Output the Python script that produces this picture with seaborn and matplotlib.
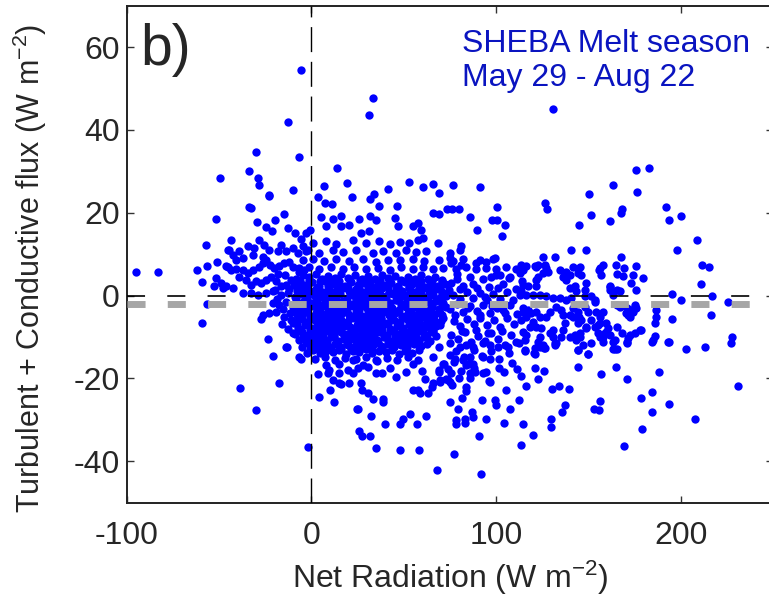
import pandas as pd
import matplotlib
matplotlib.use('Agg')
import matplotlib.pyplot as plt
import seaborn as sns

# (net radiation, turbulent + conductive flux) in W m-2
upper_pts = [
    (-5.6, 54.5), (-12.8, 42.0), (33.2, 47.6), (31.4, 43.6), (-30.0, 34.6), (-6.5, 33.4),
    (-49.5, 28.4), (-33.6, 30.0), (-28.7, 28.3), (-28.2, 26.6), (-23.1, 24.2), (-9.8, 25.4),
    (13.7, 30.8), (7.0, 26.4), (19.1, 27.2), (21.8, 23.7), (34.1, 24.6), (31.8, 23.4),
    (41.3, 25.8), (3.8, 23.8), (130.6, 45.0), (53.1, 27.5), (60.3, 26.2), (65.7, 27.0),
    (68.8, 24.8), (76.9, 26.6), (91.5, 26.2), (150.1, 24.5), (163.2, 26.7), (175.7, 30.4),
    (182.4, 30.9), (176.2, 24.9), (-51.6, 18.5), (-43.5, 13.5), (-32.7, 21.2), (-33.6, 21.5),
    (-22.8, 24.1), (-29.6, 17.8), (-24.5, 16.5), (-19.7, 18.2), (-15.0, 19.8), (-21.3, 15.5),
    (-12.4, 16.3), (-8.8, 15.1), (-5.6, 13.6), (-0.9, 15.9), (5.2, 19.0), (7.6, 22.4),
    (-28.2, 13.5), (-25.5, 12.3), (-16.4, 12.3), (11.0, 22.2), (36.5, 21.7), (46.4, 21.6),
    (32.0, 19.1), (25.6, 18.5), (16.1, 19.1), (11.6, 18.4), (8.0, 16.7), (16.1, 16.7),
    (20.6, 17.1), (26.9, 15.1), (31.4, 15.5), (35.0, 18.3), (45.3, 18.7), (46.8, 16.7),
    (54.9, 16.7), (57.6, 17.5), (59.4, 15.9), (65.7, 20.0), (68.8, 19.6), (73.5, 20.8),
    (76.0, 20.8), (79.8, 20.8), (85.6, 19.0), (89.6, 15.9), (97.9, 18.3), (100.6, 18.3),
    (100.6, 21.5), (104.9, 17.0), (103.1, 14.5), (68.4, 12.7), (80.7, 11.9), (57.6, 13.3),
    (60.3, 13.9), (-2.9, 15.1), (0.7, 12.6), (7.9, 13.2), (13.4, 12.5), (22.4, 13.3),
    (29.6, 12.7), (36.8, 13.1), (42.3, 12.4), (47.7, 13.0), (53.1, 12.6), (126.2, 22.4),
    (127.5, 20.9), (151.5, 19.4), (144.6, 17.1), (161.4, 18.0), (167.4, 20.0), (168.3, 20.9),
    (192.1, 21.4), (193.4, 18.2), (199.9, 19.1), (208.9, 13.3),
]

left_pts = [
    (-94.6, 5.7), (-82.9, 5.6), (-58.9, -6.7), (-57.0, 12.3), (-50.8, 8.0), (-61.9, 6.2),
    (-58.9, 3.2), (-56.2, 7.2), (-51.6, 4.2), (-52.5, 2.2), (-48.0, 1.8), (-56.3, -2.0),
    (-45.3, 10.9), (-38.6, -22.2), (-30.0, -27.7), (-17.3, -21.2), (-21.0, -14.6), (-13.4, -12.3),
    (-5.6, -15.2), (-1.6, -36.6), (-45.3, 6.9), (-43.5, 6.2), (-40.8, 6.4), (-37.2, 6.2),
    (-34.5, 5.4), (-31.8, 6.1), (-28.5, 6.9), (-26.4, 7.8), (-24.5, 8.6), (-22.4, 7.4),
    (-20.0, 6.6), (-17.3, 7.2), (-14.6, 7.8), (-11.9, 8.0), (-10.1, 6.9), (-6.5, 5.8),
    (-3.8, 6.2), (-39.0, 4.6), (-35.4, 3.8), (-32.7, 2.6), (-30.0, 3.6), (-27.3, 3.0),
    (-24.5, 3.8), (-21.8, 4.6), (-19.1, 3.4), (-16.4, 2.2), (-13.7, 2.6), (-11.0, 3.8),
    (-48.9, 3.0), (-46.2, 2.2), (-42.6, 1.8), (-37.2, 0.6), (-32.7, 0.6), (-29.1, 0.2),
    (-24.5, 0.6), (-21.0, 1.0), (-16.4, 0.2), (-12.8, 0.6), (-21.0, -1.8), (-17.3, -2.3),
    (-13.7, -1.5), (-10.1, -2.7), (-26.4, -4.7), (-22.8, -4.3), (-19.1, -3.9), (-14.6, -5.1),
    (-11.0, -5.9), (-27.3, -5.7), (-23.6, -10.6), (-13.7, -12.3), (-10.1, -9.1), (-6.5, -14.8),
    (-34.5, 12.0), (-30.9, 11.5), (-31.8, 9.9), (-26.4, 9.4), (-22.8, 11.1), (-18.2, 10.7),
    (-13.7, 10.7), (-10.1, 11.5), (-7.4, 10.3), (-4.7, 11.9), (-2.0, 11.1), (-37.2, 9.1),
    (-40.8, 8.6), (-42.6, 9.9), (-39.0, 10.7), (-44.4, 11.1), (-46.2, 7.2), (-18.5, -0.8),
    (-15.2, -3.2), (-12.1, 1.5), (-11.5, -4.1), (-14.0, 4.9), (-17.9, 5.3), (-19.8, 1.3),
    (-16.0, -6.8), (-12.8, -8.0), (-9.9, -6.5),
]

band_pts = [
    (-2.9, 10.7), (4.3, 10.3), (11.6, 10.9), (16.9, 10.5), (24.2, 11.0), (33.2, 10.4),
    (38.6, 10.8), (45.9, 10.2), (51.3, 10.9), (56.7, 10.5), (62.1, 10.7), (74.8, 10.4),
    (80.2, 10.9), (-4.7, 8.6), (0.7, 8.9), (7.0, 8.3), (13.4, 8.8), (20.6, 8.4),
    (27.8, 8.9), (35.0, 8.2), (41.3, 8.7), (47.7, 8.5), (54.9, 8.9), (61.2, 8.3),
    (69.3, 8.7), (76.6, 8.4), (82.0, 8.8), (91.0, 8.6), (94.6, 8.1), (98.2, 8.9),
    (-6.5, 6.6), (-1.1, 6.9), (4.3, 6.4), (10.7, 6.8), (16.9, 6.3), (23.3, 6.9),
    (29.6, 6.5), (35.9, 6.7), (42.3, 6.2), (48.6, 6.8), (54.9, 6.4), (60.3, 6.9),
    (65.7, 6.3), (71.1, 6.7), (78.4, 6.5), (83.8, 6.9), (89.2, 6.4), (94.6, 6.7),
    (100.0, 6.3), (105.5, 6.8), (110.9, 6.5), (114.5, 6.2), (121.7, 7.0), (128.0, 5.8),
    (99.1, 9.1), (89.2, 7.8), (81.1, 7.4), (75.7, 7.8), (74.8, 9.1), (107.3, 4.6),
    (101.9, 5.0), (97.3, 4.6), (112.7, 5.4),
]

core_pts = [
    (-8.2, 4.1), (-4.6, 5.0), (-1.3, 4.4), (2.4, 5.2), (5.8, 4.0), (9.1, 4.8), (12.7, 4.2),
    (16.3, 5.1), (19.8, 4.3), (23.5, 4.9), (27.2, 3.9), (30.6, 4.7), (34.4, 4.1), (38.1, 5.0),
    (41.5, 4.2), (45.2, 4.8), (48.7, 3.8), (52.3, 4.6), (56.0, 4.0), (59.4, 4.9), (63.1, 3.9),
    (66.8, 4.5), (70.5, 3.7),
    (-9.5, 2.6), (-6.1, 3.3), (-2.8, 2.5), (0.6, 3.2), (4.1, 2.4), (7.6, 3.4), (11.0, 2.7),
    (14.6, 3.1), (18.1, 2.3), (21.7, 3.3), (25.3, 2.6), (28.8, 3.0), (32.5, 2.2), (36.0, 3.2),
    (39.6, 2.5), (43.2, 3.1), (46.9, 2.4), (50.4, 3.3), (54.1, 2.6), (57.7, 2.9), (61.3, 2.1),
    (65.0, 3.0), (68.6, 2.4), (72.4, 2.8),
    (-7.7, 1.2), (-4.2, 1.8), (-0.8, 1.0), (2.7, 1.7), (6.3, 0.9), (9.8, 1.6), (13.4, 1.1),
    (16.9, 1.9), (20.4, 1.0), (24.0, 1.5), (27.6, 0.8), (31.1, 1.7), (34.7, 1.2), (38.4, 1.8),
    (41.9, 0.9), (45.6, 1.6), (49.0, 1.1), (52.7, 1.8), (56.3, 0.8), (59.9, 1.5), (63.5, 1.0),
    (67.2, 1.7), (70.8, 0.9), (74.3, 1.4),
    (-9.0, -0.3), (-5.6, 0.3), (-2.1, -0.5), (1.4, 0.2), (4.9, -0.4), (8.5, 0.4), (12.0, -0.2),
    (15.6, 0.3), (19.1, -0.6), (22.7, 0.1), (26.3, -0.3), (29.8, 0.4), (33.4, -0.5), (37.0, 0.2),
    (40.6, -0.2), (44.1, 0.5), (47.8, -0.4), (51.3, 0.1), (55.0, -0.5), (58.6, 0.3), (62.2, -0.3),
    (65.8, 0.2), (69.5, -0.6), (73.1, 0.0),
    (-7.4, -1.8), (-3.9, -1.2), (-0.4, -1.9), (3.1, -1.3), (6.6, -2.0), (10.2, -1.1), (13.7, -1.7),
    (17.3, -1.2), (20.9, -2.0), (24.4, -1.4), (28.0, -1.8), (31.6, -1.0), (35.2, -1.9), (38.8, -1.3),
    (42.3, -1.7), (46.0, -1.1), (49.5, -2.0), (53.2, -1.4), (56.8, -1.8), (60.4, -1.2), (64.0, -1.9),
    (67.6, -1.3), (71.2, -1.7),
    (-9.3, -3.2), (-5.8, -2.7), (-2.4, -3.4), (1.1, -2.6), (4.6, -3.3), (8.2, -2.8), (11.7, -3.5),
    (15.3, -2.7), (18.8, -3.1), (22.4, -2.6), (26.0, -3.4), (29.5, -2.8), (33.1, -3.2), (36.7, -2.5),
    (40.3, -3.3), (43.9, -2.9), (47.4, -3.5), (51.0, -2.7), (54.6, -3.1), (58.2, -2.6), (61.8, -3.4),
    (65.4, -2.8), (69.0, -3.2), (72.8, -2.7),
    (-7.9, -4.8), (-4.4, -4.2), (-0.9, -4.9), (2.6, -4.1), (6.1, -4.7), (9.7, -4.3), (13.2, -5.0),
    (16.8, -4.2), (20.3, -4.6), (23.9, -4.0), (27.5, -4.9), (31.0, -4.4), (34.6, -4.8), (38.2, -4.1),
    (41.8, -4.7), (45.4, -4.3), (48.9, -5.0), (52.5, -4.2), (56.1, -4.6), (59.7, -4.1), (63.3, -4.9),
    (66.9, -4.4), (70.6, -4.7),
    (-8.6, -6.3), (-5.1, -5.7), (-1.6, -6.4), (1.9, -5.8), (5.4, -6.2), (9.0, -5.6), (12.5, -6.5),
    (16.1, -5.9), (19.6, -6.1), (23.2, -5.5), (26.8, -6.4), (30.3, -5.8), (33.9, -6.2), (37.5, -5.6),
    (41.1, -6.5), (44.7, -5.9), (48.2, -6.3), (51.8, -5.7), (55.4, -6.1), (59.0, -5.5), (62.6, -6.4),
    (66.2, -5.9), (69.9, -6.2),
    (-7.1, -7.8), (-3.6, -7.2), (-0.1, -7.9), (3.4, -7.3), (6.9, -7.7), (10.5, -7.1), (14.0, -8.0),
    (17.6, -7.4), (21.1, -7.6), (24.7, -7.0), (28.3, -7.9), (31.8, -7.3), (35.4, -7.7), (39.0, -7.1),
    (42.6, -8.0), (46.2, -7.4), (49.7, -7.8), (53.3, -7.2), (56.9, -7.6), (60.5, -7.1), (64.1, -7.9),
    (67.7, -7.3),
    (-8.8, -9.2), (-5.3, -8.7), (-1.8, -9.4), (1.7, -8.8), (5.2, -9.1), (8.8, -8.6), (12.3, -9.5),
    (15.9, -8.9), (19.4, -9.2), (23.0, -8.6), (26.6, -9.4), (30.1, -8.8), (33.7, -9.1), (37.3, -8.7),
    (40.9, -9.5), (44.5, -8.9), (48.0, -9.3), (51.6, -8.7), (55.2, -9.1), (58.8, -8.6), (62.4, -9.4),
    (66.0, -8.9),
    (-6.8, -10.8), (-3.3, -10.2), (0.2, -10.9), (3.7, -10.3), (7.2, -10.7), (10.8, -10.1), (14.3, -11.0),
    (17.9, -10.4), (21.4, -10.6), (25.0, -10.0), (28.6, -10.9), (32.1, -10.3), (35.7, -10.7), (39.3, -10.1),
    (42.9, -11.0), (46.5, -10.4), (50.0, -10.8), (53.6, -10.2), (57.2, -10.6), (60.8, -10.1), (64.4, -10.9),
    (-4.9, -12.3), (-1.4, -11.7), (2.1, -12.4), (5.6, -11.8), (9.2, -12.2), (12.7, -11.6), (16.3, -12.5),
    (19.8, -11.9), (23.4, -12.1), (27.0, -11.5), (30.5, -12.4), (34.1, -11.8), (37.7, -12.2), (41.3, -11.6),
    (44.9, -12.5), (48.4, -11.9), (52.0, -12.3), (55.6, -11.7), (59.2, -12.1), (62.8, -11.6),
    (-2.6, -13.8), (1.0, -13.2), (4.5, -13.9), (8.0, -13.3), (11.6, -13.7), (15.1, -13.1), (18.7, -14.0),
    (22.3, -13.4), (25.8, -13.6), (29.4, -13.0), (33.0, -13.9), (36.6, -13.3), (40.2, -13.7), (43.7, -13.1),
    (47.3, -14.0), (50.9, -13.4), (54.5, -13.8), (58.1, -13.2),
    (2.0, -15.3), (7.5, -14.8), (13.0, -15.6), (18.2, -15.0), (24.1, -15.4), (29.6, -14.9), (35.3, -15.7),
    (40.8, -15.1), (46.6, -15.5), (52.2, -14.8), (57.9, -15.6),
]

# second layer filling the densest part of the cloud
core_fill = [
    (-6.4, 3.6), (-1.0, 3.7), (4.6, 3.5), (10.2, 3.8), (15.0, 3.6), (21.0, 3.4), (26.1, 3.7),
    (31.9, 3.5), (37.2, 3.8), (42.6, 3.6), (48.3, 3.5), (53.9, 3.7), (59.5, 3.4), (65.1, 3.6),
    (70.6, 3.5),
    (-8.0, 2.0), (-2.3, 2.1), (3.3, 1.9), (8.9, 2.2), (14.2, 2.0), (19.6, 1.8), (25.7, 2.1),
    (30.4, 1.9), (35.8, 2.2), (41.2, 2.0), (47.0, 1.8), (52.6, 2.1), (58.2, 1.9), (63.8, 2.2),
    (69.4, 2.0),
    (-6.9, 0.6), (-1.6, 0.5), (4.0, 0.7), (9.7, 0.4), (15.0, 0.6), (20.9, 0.8), (26.0, 0.5),
    (31.5, 0.7), (36.9, 0.4), (42.6, 0.6), (48.2, 0.5), (53.8, 0.7), (59.4, 0.4), (65.0, 0.6),
    (70.5, 0.5),
    (-8.3, -0.9), (-3.0, -0.8), (2.5, -1.0), (7.6, -0.7), (13.6, -0.9), (18.7, -1.1), (24.1, -0.8),
    (29.7, -1.0), (35.1, -0.7), (40.4, -0.9), (46.3, -1.0), (51.9, -0.8), (57.5, -1.0), (63.1, -0.7),
    (68.7, -0.9),
    (-6.6, -2.4), (-1.2, -2.5), (4.3, -2.3), (9.8, -2.6), (15.4, -2.4), (20.6, -2.2), (26.2, -2.5),
    (31.8, -2.3), (37.4, -2.6), (42.8, -2.4), (48.4, -2.3), (54.0, -2.5), (59.6, -2.2), (65.2, -2.4),
    (70.8, -2.6),
    (-8.1, -3.9), (-2.9, -4.0), (2.8, -3.8), (8.3, -4.1), (13.9, -3.9), (19.4, -3.7), (24.9, -4.0),
    (30.4, -3.8), (35.9, -4.1), (41.4, -3.9), (47.0, -3.8), (52.6, -4.0), (58.2, -3.7), (63.8, -3.9),
    (69.4, -4.1),
    (-6.3, -5.3), (-0.9, -5.4), (4.6, -5.2), (10.3, -5.5), (15.7, -5.3), (21.3, -5.1), (26.8, -5.4),
    (32.3, -5.2), (37.9, -5.5), (43.3, -5.3), (48.9, -5.2), (54.5, -5.4), (60.1, -5.1), (65.7, -5.3),
    (71.3, -5.5),
    (-8.0, -6.8), (-2.7, -6.9), (3.0, -6.7), (8.4, -7.0), (14.0, -6.8), (19.5, -6.6), (25.0, -6.9),
    (30.6, -6.7), (36.1, -7.0), (41.6, -6.8), (47.1, -6.7), (52.7, -6.9), (58.3, -6.6), (63.9, -6.8),
    (69.5, -7.0),
    (-6.0, -8.3), (-0.6, -8.4), (4.9, -8.2), (10.6, -8.5), (16.0, -8.3), (21.5, -8.1), (27.1, -8.4),
    (32.7, -8.2), (38.2, -8.5), (43.6, -8.3), (49.2, -8.2), (54.8, -8.4), (60.4, -8.1), (66.0, -8.3),
    (-4.7, -9.8), (0.9, -9.9), (6.4, -9.7), (12.0, -10.0), (17.5, -9.8), (23.1, -9.6), (28.6, -9.9),
    (34.1, -9.7), (39.7, -10.0), (45.2, -9.8), (50.8, -9.7), (56.4, -9.9), (62.0, -9.6), (67.6, -9.8),
    (-2.9, -11.2), (2.6, -11.3), (8.2, -11.1), (13.8, -11.4), (19.3, -11.2), (24.8, -11.0), (30.4, -11.3),
    (35.9, -11.1), (41.4, -11.4), (47.0, -11.2), (52.6, -11.1), (58.2, -11.3), (63.8, -11.0),
    (-0.5, -12.8), (5.1, -12.9), (10.6, -12.7), (16.2, -13.0), (21.7, -12.8), (27.3, -12.6), (32.8, -12.9),
    (38.4, -12.7), (43.9, -13.0),
]

mid_pts = [
    (75.5, 3.1), (78.9, 5.2), (82.3, 2.4), (85.8, 4.6), (89.4, 1.9), (93.0, 4.1), (96.3, 2.0),
    (99.8, 5.0), (103.5, 2.7), (107.1, 4.3), (110.6, 1.5), (114.0, 3.6),
    (76.8, 0.2), (80.5, -0.9), (84.1, 0.9), (87.6, -0.5), (91.2, 0.6), (94.9, -1.1), (98.4, 0.3),
    (102.0, -0.8), (105.6, 0.8), (109.3, -1.0), (112.8, 0.1),
    (75.1, -3.3), (78.7, -2.1), (82.2, -4.0), (85.9, -2.6), (89.5, -3.8), (93.1, -2.3), (96.6, -4.2),
    (100.2, -2.9), (103.8, -3.6), (107.4, -2.2), (111.0, -4.4), (114.6, -3.0),
    (77.0, -6.1), (80.6, -7.4), (84.2, -5.6), (87.8, -6.9), (91.4, -5.3), (95.0, -7.2), (98.6, -6.0),
    (102.2, -7.7), (105.8, -5.5), (109.4, -6.8),
    (75.8, -9.5), (79.4, -10.6), (83.0, -8.9), (86.6, -11.2), (90.2, -9.8), (93.8, -11.0), (97.4, -9.1),
    (101.0, -10.4), (104.6, -12.0), (108.2, -9.6), (112.1, -11.5),
    (78.2, -13.5), (82.7, -14.8), (88.1, -13.1), (92.5, -14.6), (97.0, -13.3), (101.5, -15.2), (106.9, -13.8),
    (69.3, -12.3), (74.8, -11.5), (80.2, -12.3), (83.8, -11.9), (87.4, -12.3), (92.8, -11.5), (96.4, -11.9),
    (100.9, -12.3), (106.3, -12.3), (110.9, -11.1), (120.8, -12.7), (122.6, -11.1), (131.6, -11.5),
    (74.8, -14.4), (77.5, -15.2), (81.8, -15.6), (85.6, -14.8), (92.8, -14.8), (96.4, -15.2),
    (80.5, 1.5), (87.2, 2.8), (94.1, -0.4), (100.9, 1.8), (77.9, -4.8), (84.6, -2.9), (91.0, -4.6),
    (98.0, -2.6), (105.0, -4.1), (81.6, -8.5), (88.9, -8.2), (95.8, -9.0), (103.3, -8.6), (79.0, 3.9),
]

right_pts = [
    (165.1, -7.5), (160.5, -7.9), (161.4, -9.5), (158.7, -9.1), (155.1, -7.1), (157.8, -9.9),
    (164.1, -10.7), (163.2, -13.0), (165.1, -13.0), (171.4, -10.3), (172.3, -9.5), (175.0, -9.1),
    (177.7, -8.3), (170.5, -11.5), (167.8, -9.1), (151.5, -11.5), (149.7, -14.0), (144.3, -13.1),
    (145.2, -9.9), (148.8, -7.9), (154.2, -3.9), (157.8, -3.9), (156.0, -5.1), (153.3, -1.5),
    (149.7, -3.9), (147.9, -2.7), (144.3, -3.9), (141.5, -3.1), (144.8, -5.1), (144.3, -6.7),
    (141.5, -5.1), (139.7, -4.7), (136.1, -4.7), (137.0, -6.7), (130.7, -8.3), (130.7, -9.9),
    (128.9, -9.1), (131.6, -11.9), (126.2, -12.7), (120.8, -14.0), (115.4, -13.1), (116.3, -9.5),
    (114.5, -8.7), (123.5, -9.9), (124.4, -7.9), (121.7, -7.5), (119.9, -6.3), (119.0, -4.3),
    (117.2, -3.5), (114.5, -3.9), (121.7, -3.9), (123.5, -5.1), (127.1, -5.1), (128.9, -3.9),
    (132.5, -2.7), (135.2, -3.5), (137.9, -1.0), (134.3, -0.6), (130.7, -0.6), (127.1, -0.2),
    (123.5, 0.2), (119.9, 0.2), (116.3, 0.2), (113.6, 1.0), (114.5, 2.6), (117.2, 2.2),
    (121.7, 2.2), (121.7, 3.8), (122.6, 4.6), (125.3, 5.4), (127.1, 6.6), (126.2, 7.4),
    (122.6, 7.4), (120.8, 7.2), (116.3, 7.2), (113.6, 7.4), (131.6, 9.4), (125.3, 9.4),
    (140.6, 10.9), (148.8, 10.9), (136.1, 4.6), (137.9, 3.8), (139.7, 5.0), (137.9, 5.8),
    (134.3, 6.2), (141.5, 7.0), (145.2, 7.0), (144.3, 5.4), (146.1, 5.0), (142.4, 2.2),
    (139.7, 1.8), (143.4, 1.0), (147.9, 1.4), (148.8, 3.0), (147.9, -0.2), (151.5, -0.2),
    (153.3, -1.0), (140.6, -0.6), (146.1, -5.9), (151.5, -5.9), (148.8, -7.5), (153.3, -7.5),
    (156.0, -6.7), (159.6, -6.7), (159.6, -8.7), (155.1, -9.1), (156.0, -9.9), (143.4, -10.7),
    (147.0, -11.9), (145.2, -9.1), (116.3, -5.1), (113.6, -5.9), (118.1, -7.5), (115.4, -10.7),
    (123.5, -12.3), (125.3, -11.9), (132.5, -11.5), (135.2, -9.9), (136.1, -8.3), (139.7, -9.9),
    (142.4, -9.5), (175.5, 7.2), (173.2, 3.1), (174.1, 5.0), (169.2, 6.6), (168.6, 4.8),
    (167.4, 9.4), (164.7, 7.4), (165.1, 5.3), (161.4, 2.0), (161.8, 1.4), (165.1, 1.4),
    (166.9, 1.0), (170.1, -4.3), (171.4, -4.7), (172.9, -3.5), (170.5, -3.1), (156.0, 6.6),
    (156.9, 5.0), (155.5, 6.2), (157.7, 7.4), (161.8, 2.2), (163.2, 0.2), (165.1, -2.3),
    (166.9, -2.7), (175.0, -2.7), (174.1, -3.9), (172.3, -5.1), (179.5, 4.2), (175.9, 1.4),
    (175.9, -3.1), (175.0, -2.3), (178.2, -8.3), (186.7, -3.5), (185.8, -6.7), (186.3, -5.2),
    (185.8, -9.8), (184.9, -10.7), (195.2, -5.7), (199.9, -1.0), (195.2, 0.3), (193.4, -11.1),
    (202.6, -12.9), (213.1, -12.3), (227.4, -10.1), (226.8, -11.4), (225.5, -1.6), (216.2, -4.7),
    (216.9, -0.1), (210.6, 2.8), (211.4, 7.4), (215.1, 7.0), (197.6, 10.9), (157.8, -11.1),
    (163.2, -11.1), (170.5, -11.1), (184.4, -11.1), (193.2, -11.1),
]

lower_pts = [
    (3.4, -19.0), (8.8, -18.8), (9.7, -18.0), (4.0, -24.6), (10.3, -22.7), (12.1, -25.7),
    (15.2, -18.8), (11.6, -20.4), (16.1, -21.4), (20.2, -21.2), (24.5, -27.3), (25.4, -27.4),
    (26.9, -21.2), (27.2, -22.8), (30.5, -23.6), (33.6, -24.9), (32.3, -29.1), (25.6, -32.7),
    (27.4, -34.0), (31.8, -34.0), (35.0, -36.7), (38.6, -24.9), (39.0, -25.7), (40.1, -31.1),
    (48.2, -30.9), (49.8, -29.9), (53.6, -28.6), (56.9, -30.9), (62.1, -29.1), (48.2, -37.2),
    (58.1, -37.2), (55.2, -22.7), (57.6, -22.8), (58.8, -23.5), (63.0, -23.5), (65.7, -21.2),
    (69.4, -20.8), (73.9, -20.4), (65.4, -22.0), (61.4, -20.2), (59.6, -18.2), (69.0, -18.4),
    (45.8, -19.6), (35.0, -18.8), (38.3, -18.8), (30.5, -17.2), (25.1, -17.6), (19.7, -18.0),
    (14.7, -21.2), (68.1, -42.2), (7.9, -16.8), (15.2, -16.4), (22.4, -15.6), (27.8, -16.8),
    (35.0, -15.6), (55.0, -16.4), (65.8, -14.8), (71.2, -16.4), (22.4, -18.8), (42.3, -17.6),
    (51.4, -18.4), (71.5, -16.5), (74.0, -17.8), (77.4, -16.0), (80.8, -18.2), (84.5, -16.6),
    (88.0, -17.5), (72.8, -20.1), (76.3, -21.6), (79.9, -19.8), (75.1, -25.8), (81.4, -24.7),
    (79.6, -27.3), (78.4, -30.9), (78.4, -30.1), (82.9, -29.7), (82.9, -30.7), (86.8, -28.1),
    (87.4, -29.4), (92.1, -25.1), (99.1, -25.1), (99.7, -26.5), (94.6, -29.9), (90.6, -33.9),
    (91.9, -43.0), (77.1, -38.2), (96.0, -20.7), (86.1, -20.0), (86.1, -18.8), (83.4, -22.0),
    (83.4, -23.0), (94.3, -18.4), (101.3, -17.6), (104.2, -18.4), (105.5, -22.9), (107.3, -27.4),
    (112.1, -25.3), (104.2, -30.8), (114.7, -31.1), (113.6, -36.0), (119.9, -33.7), (116.3, -21.8),
    (122.6, -20.1), (121.2, -17.6), (125.8, -18.2), (115.4, -13.3), (120.4, -13.9), (125.7, -12.7),
    (113.6, -19.4), (111.4, -17.8), (108.5, -16.2), (130.2, -22.5), (134.0, -21.8), (139.4, -22.5),
    (137.1, -26.4), (135.8, -28.2), (129.6, -29.9), (129.4, -31.7), (144.3, -17.2), (144.0, -13.2),
    (149.7, -14.2), (156.9, -19.0), (156.4, -25.4), (152.8, -27.3), (155.7, -27.7), (164.1, -12.9),
    (164.8, -17.2), (170.5, -20.2), (169.0, -36.3), (178.2, -24.7), (179.1, -32.1), (184.4, -23.3),
    (184.5, -28.0), (188.3, -18.5), (193.6, -26.1), (207.5, -29.9), (230.6, -21.9), (75.7, -18.8),
    (69.3, -18.0), (69.8, -20.4), (74.8, -20.8), (88.3, -18.4), (92.8, -18.8), (96.4, -20.8),
    (87.4, -16.4), (83.8, -16.8),
]

pts = upper_pts + left_pts + band_pts + core_pts + core_fill + mid_pts + right_pts + lower_pts
df = pd.DataFrame(pts, columns=['net_rad', 'flux'])

sns.set_style('ticks')
plt.rcParams['font.family'] = ['Liberation Sans', 'DejaVu Sans']
plt.rcParams['mathtext.fontset'] = 'custom'
plt.rcParams['mathtext.rm'] = 'Liberation Sans'
plt.rcParams['mathtext.it'] = 'Liberation Sans'
plt.rcParams['axes.unicode_minus'] = False
plt.rcParams['lines.scale_dashes'] = False

fig = plt.figure(figsize=(7.69, 6.01), dpi=100)
ax = fig.add_axes([0.1645, 0.1636, 0.8413, 0.827])

sns.scatterplot(data=df, x='net_rad', y='flux', color='#0000ff', s=36,
                linewidth=0, ax=ax, zorder=2)

ax.axvline(0, color='black', lw=1.0, dashes=(18, 7), zorder=3)
ax.axhline(0, color='black', lw=1.2, dashes=(13, 16), zorder=3)
ax.axhline(-2, color='#a6a6a6', lw=5, dashes=(13, 16), zorder=3)

ax.set_xlim(-100, 250)
ax.set_ylim(-50, 70)
ax.set_xticks([-100, 0, 100, 200])
ax.set_yticks([-40, -20, 0, 20, 40, 60])
ax.tick_params(direction='in', top=True, right=True, labelsize=23,
               length=5, width=1, color='#333333')
ax.tick_params(axis='x', pad=13)
ax.tick_params(axis='y', pad=5)
for sp in ax.spines.values():
    sp.set_linewidth(1.4)
    sp.set_color('#222222')

ax.set_xlabel('Net Radiation (W m$^{-2}$)', fontsize=23, labelpad=6)
ax.set_ylabel('Turbulent + Conductive flux (W m$^{-2}$)', fontsize=22)
ax.yaxis.set_label_coords(-0.12, 0.472)

ax.text(0.021, 0.881, 'b)', transform=ax.transAxes, fontsize=41, va='baseline')
ax.text(0.518, 0.907, 'SHEBA Melt season', transform=ax.transAxes,
        fontsize=23, color='#0a14c0', va='baseline')
ax.text(0.518, 0.838, 'May 29 - Aug 22', transform=ax.transAxes,
        fontsize=23, color='#0a14c0', va='baseline')

fig.savefig('out.png', dpi=100)
